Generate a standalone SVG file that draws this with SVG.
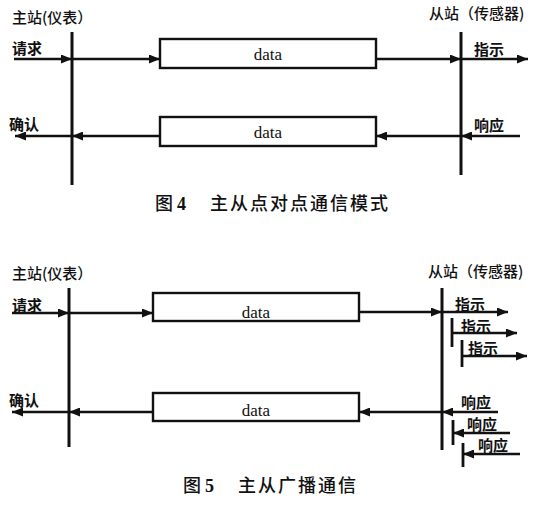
<svg xmlns="http://www.w3.org/2000/svg" width="541" height="508" viewBox="0 0 541 508">
<style>
.bg{fill:#fff}
.ln{stroke:#111;stroke-width:2.4;fill:none}
.vl{stroke:#111;stroke-width:3;fill:none}
.bar{stroke:#111;stroke-width:2.8;fill:none}
.box{fill:#fff;stroke:#111;stroke-width:2.4}
.lb{font-family:"Noto Sans CJK SC","Noto Sans CJK JP",sans-serif;font-size:15px;font-weight:bold;fill:#111}
.st{font-family:"Noto Sans CJK SC","Noto Sans CJK JP",sans-serif;font-size:15px;font-weight:500;fill:#111}
.dt{font-family:"Liberation Serif",serif;font-size:17px;fill:#111;text-anchor:middle}
.cap{font-family:"Noto Sans CJK SC","Noto Sans CJK JP",sans-serif;font-size:18px;font-weight:500;fill:#111;letter-spacing:2px}
.num{font-family:"Liberation Serif",serif;font-size:18px;font-weight:bold;fill:#111}
</style>
<defs>
<marker id="ah" viewBox="0 0 11 9" refX="11" refY="4.5" markerWidth="11" markerHeight="9" markerUnits="userSpaceOnUse" orient="auto">
<path d="M0,0 L11,4.5 L0,9 z" fill="#111"/>
</marker>
</defs>
<rect class="bg" width="541" height="508"/>

<!-- Figure 4 -->
<g id="fig4-master">
<line class="vl" x1="72" y1="32" x2="72" y2="185"/>
<text class="st" x="12" y="23">主站(仪表）</text>
<text class="lb" x="12" y="54">请求</text>
<text class="lb" x="9" y="130">确认</text>
</g>
<g id="fig4-slave">
<line class="vl" x1="461" y1="32" x2="461" y2="175"/>
<text class="st" x="429" y="19">从站（传感器)</text>
<text class="lb" x="474" y="55">指示</text>
<text class="lb" x="474" y="131">响应</text>
</g>
<g id="fig4-box1">
<rect class="box" x="160" y="39" width="216" height="29"/>
<text class="dt" x="268" y="60">data</text>
</g>
<g id="fig4-box2">
<rect class="box" x="160" y="117" width="216" height="29"/>
<text class="dt" x="268" y="138">data</text>
</g>
<g id="fig4-connectors">
<line class="ln" x1="14" y1="59" x2="72" y2="59" marker-end="url(#ah)"/>
<line class="ln" x1="72" y1="59" x2="160" y2="59" marker-end="url(#ah)"/>
<line class="ln" x1="376" y1="59" x2="461" y2="59" marker-end="url(#ah)"/>
<line class="ln" x1="461" y1="59" x2="528" y2="59" marker-end="url(#ah)"/>
<line class="ln" x1="520" y1="136" x2="461" y2="136" marker-end="url(#ah)"/>
<line class="ln" x1="461" y1="136" x2="376" y2="136" marker-end="url(#ah)"/>
<line class="ln" x1="160" y1="136" x2="72" y2="136" marker-end="url(#ah)"/>
<line class="ln" x1="72" y1="136" x2="15" y2="136" marker-end="url(#ah)"/>
</g>
<g id="caption4">
<text class="cap" x="155" y="210">图</text>
<text class="num" x="177" y="210">4</text>
<text class="cap" x="210" y="210">主从点对点通信模式</text>
</g>

<!-- Figure 5 -->
<g id="fig5-master">
<line class="vl" x1="69" y1="288" x2="69" y2="447"/>
<text class="st" x="12" y="279">主站(仪表）</text>
<text class="lb" x="12" y="311">请求</text>
<text class="lb" x="9" y="406">确认</text>
</g>
<g id="fig5-slave">
<line class="vl" x1="442" y1="288" x2="442" y2="450"/>
<text class="st" x="428" y="277">从站（传感器)</text>
<text class="lb" x="455" y="310">指示</text>
<text class="lb" x="461" y="332">指示</text>
<text class="lb" x="468" y="354">指示</text>
<text class="lb" x="461" y="408">响应</text>
<text class="lb" x="467" y="430">响应</text>
<text class="lb" x="478" y="451">响应</text>
<line class="bar" x1="452" y1="318" x2="452" y2="347"/>
<line class="bar" x1="462" y1="340" x2="462" y2="367"/>
<line class="bar" x1="453" y1="420" x2="453" y2="445"/>
<line class="bar" x1="463" y1="443" x2="463" y2="467"/>
</g>
<g id="fig5-box1">
<rect class="box" x="153" y="293" width="206" height="28"/>
<text class="dt" x="256" y="318">data</text>
</g>
<g id="fig5-box2">
<rect class="box" x="153" y="393" width="206" height="28"/>
<text class="dt" x="256" y="416">data</text>
</g>
<g id="fig5-connectors">
<line class="ln" x1="12" y1="313" x2="69" y2="313" marker-end="url(#ah)"/>
<line class="ln" x1="69" y1="313" x2="153" y2="313" marker-end="url(#ah)"/>
<line class="ln" x1="359" y1="312" x2="442" y2="312" marker-end="url(#ah)"/>
<line class="ln" x1="442" y1="312" x2="508" y2="312" marker-end="url(#ah)"/>
<line class="ln" x1="452" y1="333" x2="517" y2="333" marker-end="url(#ah)"/>
<line class="ln" x1="462" y1="356" x2="527" y2="356" marker-end="url(#ah)"/>
<line class="ln" x1="498" y1="412" x2="442" y2="412" marker-end="url(#ah)"/>
<line class="ln" x1="442" y1="412" x2="359" y2="412" marker-end="url(#ah)"/>
<line class="ln" x1="153" y1="412" x2="69" y2="412" marker-end="url(#ah)"/>
<line class="ln" x1="69" y1="412" x2="12" y2="412" marker-end="url(#ah)"/>
<line class="ln" x1="510" y1="433" x2="453" y2="433" marker-end="url(#ah)"/>
<line class="ln" x1="520" y1="454" x2="463" y2="454" marker-end="url(#ah)"/>
</g>
<g id="caption5">
<text class="cap" x="183" y="492">图</text>
<text class="num" x="205" y="492">5</text>
<text class="cap" x="238" y="492">主从广播通信</text>
</g>
</svg>
